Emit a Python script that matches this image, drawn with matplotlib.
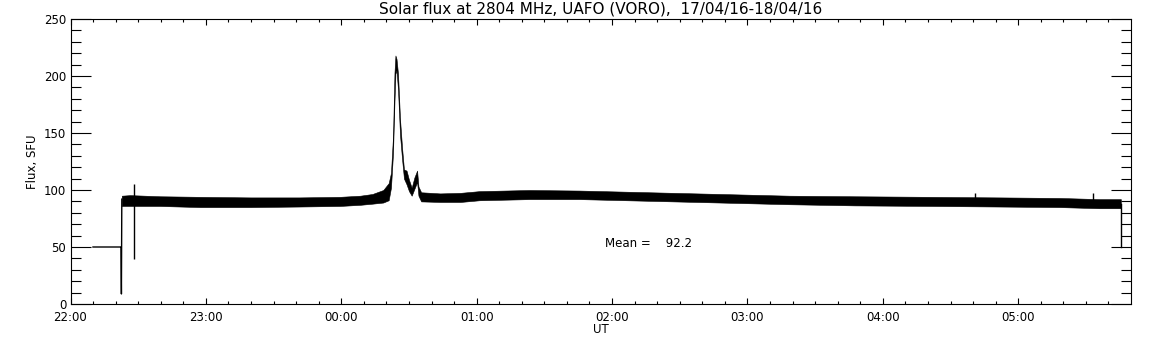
import numpy as np
import matplotlib
matplotlib.use("Agg")
import matplotlib.pyplot as plt
from matplotlib.ticker import MultipleLocator

# time in hours after 22:00 UT
HOUR_TICKS = [0, 1, 2, 3, 4, 5, 6, 7]
HOUR_LABELS = ["22:00", "23:00", "00:00", "01:00", "02:00", "03:00", "04:00", "05:00"]
X_END = 7.833

# receiver band (lower / upper edge of the noisy trace), SFU
band_t = [0.379, 0.44, 0.66, 0.96, 1.33, 1.69, 1.99, 2.14, 2.23, 2.31, 2.35,
          2.367, 2.382, 2.393, 2.400, 2.408, 2.419, 2.434, 2.449, 2.463,
          2.482, 2.50, 2.52, 2.54, 2.56, 2.57, 2.59, 2.73, 2.88, 3.02,
          3.39, 3.76, 4.28, 4.80, 5.31, 5.79, 6.35, 6.86, 7.31, 7.60, 7.758]
band_lo = [86, 86, 86, 85, 85, 85.5, 86, 87, 88, 89, 91,
           102, 132, 178, 202, 205, 188, 148, 127, 110,
           105, 99, 95, 101, 107, 95, 90, 89.5, 89.5, 91,
           92, 92, 90.5, 89, 87.5, 86.5, 86, 85.5, 85, 84, 84]
band_hi = [95, 95.5, 94.5, 94, 93.5, 93.5, 94, 95, 96.5, 100, 106,
           115, 147, 203, 218, 215, 202, 162, 137, 118,
           117, 109, 102, 111, 117, 103, 98, 97, 97.5, 99,
           100, 99.5, 98, 96.5, 95, 94.5, 94, 93.5, 93, 92, 92]

# calibration level and dropout at switch-on, closing drop at the end
trace_t = [0.166, 0.373, 0.376, 0.379]
trace_v = [50, 50, 8.8, 92]
end_t = [7.758, 7.758]
end_v = [88, 50]

# single-sample spikes
spike_t = [0.469, 6.68, 7.55]
spike_lo = [39.5, 90, 90]
spike_hi = [105, 97, 97.6]

MEAN_FLUX = 92.2

fig = plt.figure(figsize=(11.52, 3.45), dpi=100)
ax = fig.add_axes([70.5 / 1152, 1 - 304 / 345, (1131 - 70.5) / 1152, 285 / 345])

ax.fill_between(band_t, band_lo, band_hi, color="black", linewidth=0.4, edgecolor="black")
ax.plot(trace_t, trace_v, color="black", lw=1.0)
ax.plot(end_t, end_v, color="black", lw=1.0)
ax.vlines(spike_t, spike_lo, spike_hi, color="black", lw=1.0)

ax.set_xlim(0, X_END)
ax.set_ylim(0, 250)
ax.set_xticks(HOUR_TICKS)
ax.set_xticklabels(HOUR_LABELS)
ax.xaxis.set_minor_locator(MultipleLocator(1 / 6))
ax.yaxis.set_major_locator(MultipleLocator(50))
ax.yaxis.set_minor_locator(MultipleLocator(10))

ax.tick_params(axis="x", which="major", direction="in", length=4.1, width=0.8,
               top=True, labelsize=8.5, pad=5)
ax.tick_params(axis="x", which="minor", direction="in", length=2.1, width=0.8, top=True)
ax.tick_params(axis="y", which="major", direction="in", length=14.4, width=0.8,
               right=True, labelsize=8.5, pad=3)
ax.tick_params(axis="y", which="minor", direction="in", length=7.2, width=0.8, right=True)
for s in ax.spines.values():
    s.set_linewidth(0.8)

ax.set_ylabel("Flux, SFU", fontsize=8.5, labelpad=4)
ax.set_xlabel("UT", fontsize=8.5, labelpad=-1)
ax.set_title("Solar flux at 2804 MHz, UAFO (VORO),  17/04/16-18/04/16", fontsize=11, pad=4)
ax.text(3.95, 53.5, "Mean =    %.1f" % MEAN_FLUX, fontsize=8.5, va="center")

fig.savefig("out.png", dpi=100)
